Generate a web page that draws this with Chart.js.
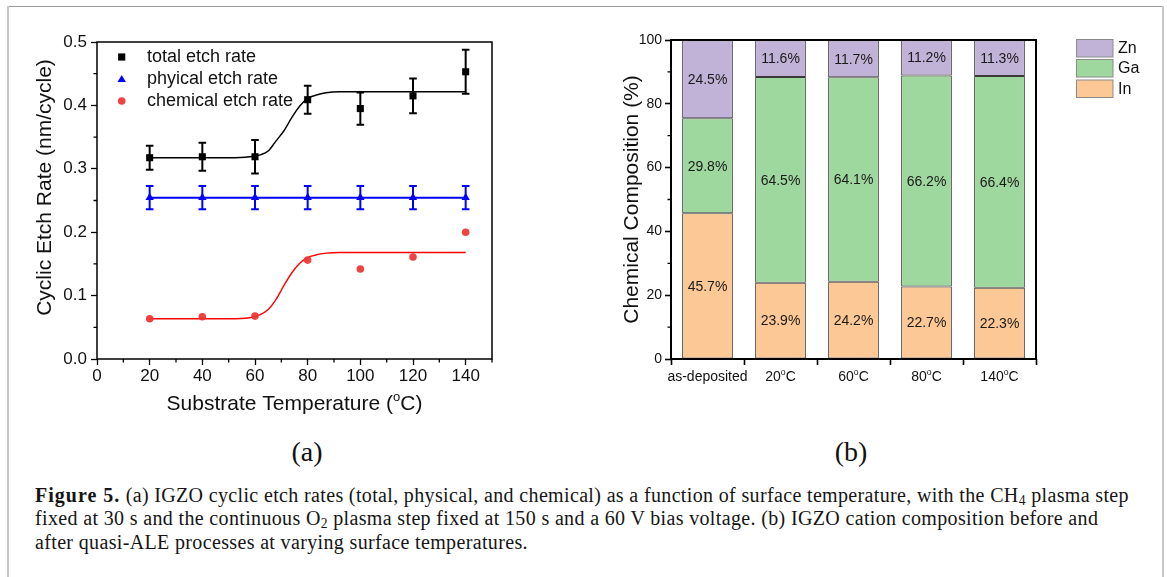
<!DOCTYPE html>
<html><head><meta charset="utf-8">
<script src="https://cdn.jsdelivr.net/npm/chart.js@4.4.1/dist/chart.umd.min.js"></script>
<style>
html,body{margin:0;padding:0;background:#fff;width:1167px;height:577px;overflow:hidden;position:relative;font-family:'Liberation Sans',Arial,sans-serif}
#wrapA{position:absolute;left:0;top:0;width:520px;height:420px}
#wrapB{position:absolute;left:600px;top:0;width:567px;height:420px}
.frameTop{position:absolute;left:8px;top:6px;width:1155px;height:1px;background:#9a9a9a}
.frameL{position:absolute;left:7px;top:6px;width:2px;height:571px;background:#c8c8c8}
.frameR{position:absolute;left:1162px;top:6px;width:2px;height:571px;background:#c8c8c8}
.panel{position:absolute;font-family:'Liberation Serif','Times New Roman',serif;font-size:28px;color:#111;transform:translate(-50%,-50%);line-height:1}
#caption{position:absolute;left:35px;top:484px;font-family:'Liberation Serif','Times New Roman',serif;font-size:20px;letter-spacing:0.35px;line-height:23.3px;color:#151515;white-space:nowrap}
#caption b{letter-spacing:1px}
#caption sub{font-size:0.68em;vertical-align:-0.22em;line-height:0}
#caption .ln{display:block}
</style></head>
<body>
<div class="frameTop"></div><div class="frameL"></div><div class="frameR"></div>
<div id="wrapA"><canvas id="chartA"></canvas></div>
<div id="wrapB"><canvas id="chartB"></canvas></div>
<div class="panel" style="left:307px;top:452px">(a)</div>
<div class="panel" style="left:851px;top:452px">(b)</div>
<div id="caption">
<div class="ln"><b>Figure 5.</b> (a) IGZO cyclic etch rates (total, physical, and chemical) as a function of surface temperature, with the CH<sub>4</sub> plasma step</div>
<div class="ln">fixed at 30 s and the continuous O<sub>2</sub> plasma step fixed at 150 s and a 60 V bias voltage. (b) IGZO cation composition before and</div>
<div class="ln">after quasi-ALE processes at varying surface temperatures.</div>
</div>
<script>
// ---------- data: panel (a) ----------
const tempX      = [20, 40, 60, 80, 100, 120, 140];
const totalRate  = [0.3175, 0.319, 0.319, 0.409, 0.395, 0.415, 0.453];
const totalErr   = [0.019, 0.022, 0.0265, 0.022, 0.0255, 0.0275, 0.0346];
const physRate   = [0.2545, 0.2545, 0.2545, 0.2545, 0.2545, 0.2545, 0.2545];
const physErr    = [0.0184, 0.0184, 0.0184, 0.0184, 0.0184, 0.0184, 0.0184];
const chemRate   = [0.0635, 0.0666, 0.0677, 0.156, 0.142, 0.161, 0.200];
const fitX       = [20, 50, 58, 62, 65, 68, 71, 74, 77, 80, 83, 87, 92, 100, 140];
const totalFit   = [0.3175, 0.3175, 0.319, 0.322, 0.328, 0.344, 0.360, 0.381, 0.399, 0.411, 0.416, 0.420, 0.4215, 0.4215, 0.4215];
const chemFit    = [0.0635, 0.0635, 0.065, 0.070, 0.078, 0.094, 0.116, 0.136, 0.151, 0.160, 0.164, 0.167, 0.168, 0.168, 0.168];
const xTicksA    = [0, 20, 40, 60, 80, 100, 120, 140];
const xMinorA    = [10, 30, 50, 70, 90, 110, 130, 150];
const yTicksA    = [0, 0.1, 0.2, 0.3, 0.4, 0.5];
const yMinorA    = [0.05, 0.15, 0.25, 0.35, 0.45];
const seriesNamesA = ['total etch rate', 'phyical etch rate', 'chemical etch rate'];

// ---------- data: panel (b) ----------
const compCats = ['as-deposited', '20°C', '60°C', '80°C', '140°C'];
const inPct    = [45.7, 23.9, 24.2, 22.7, 22.3];
const gaPct    = [29.8, 64.5, 64.1, 66.2, 66.4];
const znPct    = [24.5, 11.6, 11.7, 11.2, 11.3];
const yTicksB  = [0, 20, 40, 60, 80, 100];
const yMinorB  = [10, 30, 50, 70, 90];

const FAM = "'Liberation Sans', Arial, Helvetica, sans-serif";
Chart.defaults.font.family = FAM;
Chart.defaults.color = '#111';

// split a label so that "°" is drawn as a raised small "o"
function richParts(label) {
  const out = [];
  label.split('°').forEach((seg, i) => {
    if (i > 0) out.push({ t: 'o', sup: true });
    if (seg) out.push({ t: seg });
  });
  return out;
}

function drawRich(ctx, parts, cx, cy, size) {
  const widths = parts.map(p => { ctx.font = (p.sup ? size * 0.62 : size) + 'px ' + FAM; return ctx.measureText(p.t).width; });
  const total = widths.reduce((a, b) => a + b, 0);
  let x = cx - total / 2;
  ctx.textAlign = 'left'; ctx.textBaseline = 'alphabetic';
  parts.forEach((p, i) => {
    ctx.font = (p.sup ? size * 0.62 : size) + 'px ' + FAM;
    ctx.fillText(p.t, x, cy + size * 0.36 - (p.sup ? size * 0.40 : 0));
    x += widths[i];
  });
}

function framePlugin(lw, minorX, minorY, titles) {
  return {
    id: 'frameMinor',
    afterDraw(chart) {
      const { ctx, chartArea: a, scales } = chart;
      ctx.save();
      ctx.strokeStyle = '#000'; ctx.lineWidth = lw;
      ctx.strokeRect(a.left, a.top, a.right - a.left, a.bottom - a.top);
      ctx.lineWidth = 1.3;
      ctx.beginPath();
      (minorX || []).forEach(v => { const px = scales.x.getPixelForValue(v); ctx.moveTo(px, a.bottom); ctx.lineTo(px, a.bottom + 3.5); });
      (minorY || []).forEach(v => { const py = scales.y.getPixelForValue(v); ctx.moveTo(a.left, py); ctx.lineTo(a.left - 3.5, py); });
      ctx.stroke();
      ctx.fillStyle = '#111';
      if (titles.x) drawRich(ctx, titles.x.parts, (a.left + a.right) / 2, titles.x.y, titles.size);
      if (titles.y) {
        ctx.save();
        ctx.translate(titles.y.x, titles.y.cy);
        ctx.rotate(-Math.PI / 2);
        drawRich(ctx, titles.y.parts, 0, 0, titles.size);
        ctx.restore();
      }
      if (titles.cats) {
        chart.data.labels.forEach((lab, i) => {
          drawRich(ctx, richParts(lab), scales.x.getPixelForValue(i), titles.cats.y, titles.cats.size);
        });
      }
      ctx.restore();
    }
  };
}

const errorBarPlugin = {
  id: 'errbars',
  afterDatasetsDraw(chart) {
    const { ctx, scales: { x, y } } = chart;
    chart.data.datasets.forEach(ds => {
      if (!ds.errors) return;
      ctx.save();
      ctx.strokeStyle = ds.errColor; ctx.lineWidth = 2;
      ds.data.forEach((p, j) => {
        const px = x.getPixelForValue(p.x);
        const yt = y.getPixelForValue(p.y + ds.errors[j]);
        const yb = y.getPixelForValue(p.y - ds.errors[j]);
        ctx.beginPath();
        ctx.moveTo(px, yt); ctx.lineTo(px, yb);
        ctx.moveTo(px - 3.8, yt); ctx.lineTo(px + 3.8, yt);
        ctx.moveTo(px - 3.8, yb); ctx.lineTo(px + 3.8, yb);
        ctx.stroke();
      });
      ctx.restore();
    });
  }
};

const legendAPlugin = {
  id: 'legendA',
  afterDraw(chart) {
    const ctx = chart.ctx;
    const rows = [57, 79.5, 101];
    const mx = 121.7, tx = 147;
    ctx.save();
    ctx.font = '18px ' + FAM; ctx.textAlign = 'left'; ctx.textBaseline = 'middle';
    seriesNamesA.forEach((name, i) => {
      const ds = chart.data.datasets[i];
      const y = rows[i];
      ctx.fillStyle = ds.backgroundColor;
      ctx.beginPath();
      if (i === 0) ctx.rect(mx - 3.6, y - 3.6, 7.2, 7.2);
      else if (i === 1) { ctx.moveTo(mx, y - 4.6); ctx.lineTo(mx + 4.2, y + 2.6); ctx.lineTo(mx - 4.2, y + 2.6); ctx.closePath(); }
      else ctx.arc(mx, y, 3.8, 0, Math.PI * 2);
      ctx.fill();
      ctx.fillStyle = '#111';
      ctx.fillText(name, tx, y);
    });
    ctx.restore();
  }
};

new Chart(document.getElementById('chartA'), {
  type: 'scatter',
  data: {
    datasets: [
      { label: seriesNamesA[0], data: tempX.map((x, i) => ({ x, y: totalRate[i] })), pointStyle: 'rect', pointRadius: 5, pointBorderWidth: 0,
        backgroundColor: '#000', borderColor: '#000', showLine: false, errors: totalErr, errColor: '#000' },
      { label: seriesNamesA[1], data: tempX.map((x, i) => ({ x, y: physRate[i] })), pointStyle: 'triangle', pointRadius: 4.8, pointBorderWidth: 0,
        backgroundColor: '#0000ff', borderColor: '#0000ff', borderWidth: 2, showLine: true, errors: physErr, errColor: '#0000ff' },
      { label: seriesNamesA[2], data: tempX.map((x, i) => ({ x, y: chemRate[i] })), pointStyle: 'circle', pointRadius: 3.8, pointBorderWidth: 0,
        backgroundColor: 'rgba(238,50,50,0.92)', borderColor: 'rgba(238,50,50,0.92)', showLine: false },
      { label: 'total fit', data: fitX.map((x, i) => ({ x, y: totalFit[i] })), showLine: true, pointRadius: 0, borderColor: '#000', borderWidth: 1.4,
        cubicInterpolationMode: 'monotone', backgroundColor: '#000' },
      { label: 'chemical fit', data: fitX.map((x, i) => ({ x, y: chemFit[i] })), showLine: true, pointRadius: 0, borderColor: '#ff0000', borderWidth: 1.4,
        cubicInterpolationMode: 'monotone', backgroundColor: '#ff0000' }
    ]
  },
  options: {
    responsive: true, maintainAspectRatio: false, animation: false,
    layout: { padding: { top: 42, right: 28, left: 0, bottom: 0 } },
    plugins: { legend: { display: false }, tooltip: { enabled: false } },
    clip: false,
    scales: {
      x: {
        type: 'linear', min: 0, max: 150,
        afterBuildTicks: s => { s.ticks = xTicksA.map(v => ({ value: v })); },
        afterFit: s => { s.height = 61; },
        grid: { display: true, drawOnChartArea: false, drawTicks: true, tickLength: 6, tickWidth: 1.3, tickColor: '#000' },
        border: { display: false },
        ticks: { font: { size: 17 }, color: '#111', padding: 1, maxRotation: 0, callback: v => String(v) }
      },
      y: {
        type: 'linear', min: 0, max: 0.5,
        afterBuildTicks: s => { s.ticks = yTicksA.map(v => ({ value: v })); },
        afterFit: s => { s.width = 97; },
        grid: { display: true, drawOnChartArea: false, drawTicks: true, tickLength: 6, tickWidth: 1.3, tickColor: '#000' },
        border: { display: false },
        ticks: { font: { size: 17 }, color: '#111', padding: 4, callback: v => Number(v).toFixed(1) }
      }
    }
  },
  plugins: [errorBarPlugin, legendAPlugin, framePlugin(1.5, xMinorA, yMinorA, {
    size: 21,
    x: { y: 402, parts: [{ t: 'Substrate Temperature (' }, { t: 'o', sup: true }, { t: 'C)' }] },
    y: { x: 43, cy: 187.5, parts: [{ t: 'Cyclic Etch Rate (nm/cycle)' }] }
  })]
});

const barLabelPlugin = {
  id: 'barLabels',
  afterDatasetsDraw(chart) {
    const ctx = chart.ctx;
    ctx.save();
    ctx.font = '14px ' + FAM; ctx.fillStyle = '#1a1a1a'; ctx.textAlign = 'center'; ctx.textBaseline = 'middle';
    chart.data.datasets.forEach((ds, i) => {
      chart.getDatasetMeta(i).data.forEach((bar, j) => {
        ctx.fillText(ds.data[j].toFixed(1) + '%', bar.x, (bar.y + bar.base) / 2 + 1);
      });
    });
    ctx.restore();
  }
};

const legendBPlugin = {
  id: 'legendB',
  afterDraw(chart) {
    const ctx = chart.ctx;
    const order = [2, 1, 0];
    const tops = [39.5, 59.5, 80];
    ctx.save();
    ctx.font = '16px ' + FAM; ctx.textAlign = 'left'; ctx.textBaseline = 'middle';
    order.forEach((di, k) => {
      const ds = chart.data.datasets[di];
      ctx.fillStyle = ds.backgroundColor;
      ctx.fillRect(476.5, tops[k], 36.5, 17.5);
      ctx.strokeStyle = '#8a8a8a'; ctx.lineWidth = 1;
      ctx.strokeRect(476.5, tops[k], 36.5, 17.5);
      ctx.fillStyle = '#111';
      ctx.fillText(ds.label, 518, tops[k] + 9.5);
    });
    ctx.restore();
  }
};

new Chart(document.getElementById('chartB'), {
  type: 'bar',
  data: {
    labels: compCats,
    datasets: [
      { label: 'In', data: inPct, backgroundColor: '#fcc896', borderColor: '#3a3a3a', borderWidth: 1, borderSkipped: false },
      { label: 'Ga', data: gaPct, backgroundColor: '#9fd89e', borderColor: '#3a3a3a', borderWidth: 1, borderSkipped: false },
      { label: 'Zn', data: znPct, backgroundColor: '#c1b2d8', borderColor: '#3a3a3a', borderWidth: 1, borderSkipped: false }
    ]
  },
  options: {
    responsive: true, maintainAspectRatio: false, animation: false,
    layout: { padding: { top: 40, right: 131, left: 0, bottom: 0 } },
    plugins: { legend: { display: false }, tooltip: { enabled: false } },
    datasets: { bar: { barPercentage: 0.695, categoryPercentage: 1 } },
    scales: {
      x: {
        stacked: true,
        afterFit: s => { s.height = 61; },
        grid: { display: true, offset: true, drawOnChartArea: false, drawTicks: true, tickLength: 6, tickWidth: 1.6, tickColor: '#000' },
        border: { display: false },
        ticks: { display: false, autoSkip: false, maxRotation: 0 }
      },
      y: {
        stacked: true, min: 0, max: 100,
        afterBuildTicks: s => { s.ticks = yTicksB.map(v => ({ value: v })); },
        afterFit: s => { s.width = 71; },
        grid: { display: true, drawOnChartArea: false, drawTicks: true, tickLength: 6, tickWidth: 1.6, tickColor: '#000' },
        border: { display: false },
        ticks: { font: { size: 14 }, color: '#111', padding: 3 }
      }
    }
  },
  plugins: [barLabelPlugin, legendBPlugin, framePlugin(2, [], yMinorB, {
    size: 21,
    y: { x: 30, cy: 199.5, parts: [{ t: 'Chemical Composition (%)' }] },
    cats: { y: 376, size: 14 }
  })]
});
</script>
</body></html>
